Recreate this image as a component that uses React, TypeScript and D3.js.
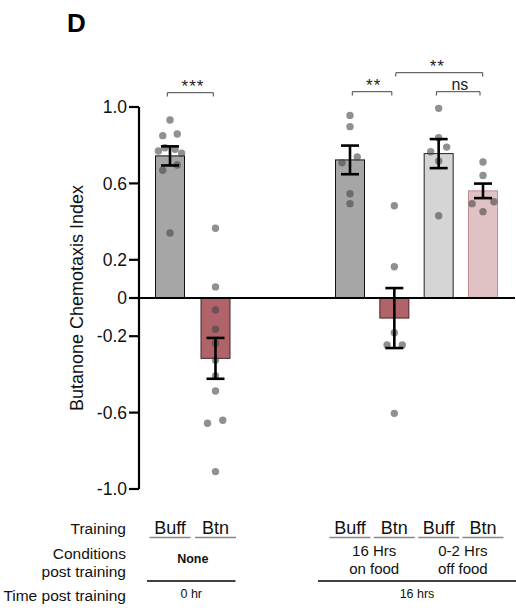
import React from "react";
import * as d3 from "d3";

const barSlots = [0, 1, 4, 5, 6, 7];
const barMeans = [0.744, -0.316, 0.723, -0.105, 0.756, 0.561];
const barSem = [0.05, 0.107, 0.075, 0.157, 0.076, 0.038];
const barFills = ["#a6a6a6", "#b06368", "#a6a6a6", "#b06368", "#d5d5d5", "#e0c1c4"];
const barStrokes = ["#111111", "#4a2427", "#111111", "#4a2427", "#222222", "#c48d92"];

// individual animals: [bar index, value, horizontal jitter (fraction of half bar width)]
const dotBar = [
  0, 0, 0, 0, 0, 0, 0, 0, 0, 0,
  1, 1, 1, 1, 1, 1, 1, 1, 1, 1, 1,
  2, 2, 2, 2, 2, 2,
  3, 3, 3, 3, 3, 3,
  4, 4, 4, 4, 4, 4,
  5, 5, 5, 5, 5,
];
const dotValue = [
  0.932, 0.85, 0.859, 0.77, 0.787, 0.779, 0.758, 0.669, 0.696, 0.34,
  0.365, 0.058, -0.063, -0.164, -0.237, -0.325, -0.408, -0.487, -0.656, -0.64, -0.909,
  0.956, 0.897, 0.738, 0.708, 0.546, 0.494,
  0.483, 0.164, -0.182, -0.246, -0.246, -0.604,
  0.993, 0.839, 0.766, 0.79, 0.717, 0.431,
  0.712, 0.642, 0.494, 0.504, 0.452,
];
const dotJitter = [
  0, -0.5, 0.5, -0.8, -0.35, 0.35, 0.8, -0.5, 0.5, 0,
  0, 0, 0, 0, 0, 0, 0, 0, -0.55, 0.5, 0,
  0, 0, 0.5, -0.55, 0, 0,
  0, 0, 0, -0.5, 0.55, 0,
  0, 0, -0.55, 0.55, 0, 0,
  0, 0, -0.75, 0.75, 0,
];

const yTicks = [1.0, 0.6, 0.2, 0, -0.2, -0.6, -1.0];
const yTickLabels = ["1.0", "0.6", "0.2", "0", "-0.2", "-0.6", "-1.0"];

// significance brackets
const sigLeft = [0, 2, 3, 4];
const sigRight = [1, 3, 5, 5];
const sigLevel = [0, 0, 1, 0];
const sigLabels = ["***", "**", "**", "ns"];

const trainingLabels = ["Buff", "Btn", "Buff", "Btn", "Buff", "Btn"];
const rowLabels = ["Training", "Conditions", "post training", "Time post training"];
const conditionGroups = [
  { bars: [0, 1], lines: ["None"], bold: true },
  { bars: [2, 3], lines: ["16 Hrs", "on food"], bold: false },
  { bars: [4, 5], lines: ["0-2 Hrs", "off food"], bold: false },
];
const timeGroups = [
  { bars: [0, 1], label: "0 hr" },
  { bars: [2, 5], label: "16 hrs" },
];

const FONT = "'Liberation Sans', Arial, Helvetica, sans-serif";

export default function App() {
  const y = d3.scaleLinear().domain([-1, 1]).range([489, 107]);
  const x = d3.scaleLinear().domain([0, 1, 4, 7]).range([170, 215.5, 350, 483]);
  const barW = 29;
  const axisX = 139;
  const cx = (i: number) => x(barSlots[i]);
  const sigOffL = [-2.7, 2.3, 1.5, -2.3];
  const sigOffR = [-2.2, -2.5, -0.3, -3];
  const sigTextOff = [2.7, 1.6, -2, 1.7];

  return (
    <svg width={516} height={612} style={{ position: "absolute", left: 0, top: 0 }} fontFamily={FONT}>
      <rect width={516} height={612} fill="#fff" />
      <text x={67} y={32} fontSize={26} fontWeight="bold">D</text>

      {/* bars */}
      {barMeans.map((m, i) => (
        <rect
          key={"b" + i}
          x={cx(i) - barW / 2}
          y={Math.min(y(m), y(0))}
          width={barW}
          height={Math.abs(y(m) - y(0))}
          fill={barFills[i]}
          stroke={barStrokes[i]}
          strokeWidth={1}
        />
      ))}

      {/* dots */}
      {dotValue.map((v, k) => (
        <circle
          key={"d" + k}
          cx={cx(dotBar[k]) + dotJitter[k] * (barW / 2)}
          cy={y(v)}
          r={3.7}
          fill="rgba(70,70,70,0.6)"
        />
      ))}

      {/* error bars */}
      {barMeans.map((m, i) => {
        const c = cx(i);
        const hi = y(m + barSem[i]);
        const lo = y(m - barSem[i]);
        return (
          <g key={"e" + i} stroke="#000" strokeWidth={2.6}>
            <line x1={c} x2={c} y1={hi} y2={lo} />
            <line x1={c - 9} x2={c + 9} y1={hi} y2={hi} />
            <line x1={c - 9} x2={c + 9} y1={lo} y2={lo} />
          </g>
        );
      })}

      {/* y axis */}
      <line x1={axisX} x2={axisX} y1={y(1)} y2={y(-1)} stroke="#000" strokeWidth={2.2} />
      {yTicks.map((t, i) => (
        <g key={"t" + i}>
          <line x1={129} x2={axisX} y1={y(t)} y2={y(t)} stroke="#000" strokeWidth={2.2} />
          <text x={127} y={y(t)} dy="0.35em" textAnchor="end" fontSize={17.5} fill="#111">
            {yTickLabels[i]}
          </text>
        </g>
      ))}
      <line x1={129} x2={515} y1={y(0)} y2={y(0)} stroke="#000" strokeWidth={2.2} />
      <text
        transform={`translate(82.5, ${y(0)}) rotate(-90)`}
        textAnchor="middle"
        fontSize={18}
        fill="#111"
      >
        Butanone Chemotaxis Index
      </text>

      {/* significance */}
      {sigLabels.map((s, i) => {
        const x1 = cx(sigLeft[i]) + sigOffL[i];
        const x2 = cx(sigRight[i]) + sigOffR[i];
        const by = sigLevel[i] ? 72.7 : i === 0 ? 92.7 : 91.7;
        const isNs = s === "ns";
        return (
          <g key={"s" + i}>
            <path
              d={`M${x1},${by + 3.8}V${by}H${x2}V${by + 3.8}`}
              fill="none"
              stroke="#444"
              strokeWidth={1}
            />
            <text
              x={(x1 + x2) / 2 + sigTextOff[i]}
              y={isNs ? by - 1.5 : by - 0.5}
              textAnchor="middle"
              fontSize={isNs ? 16 : 17}
              letterSpacing={isNs ? 0 : 1}
              fill="#222"
            >
              {s}
            </text>
          </g>
        );
      })}

      {/* bottom table */}
      <g fontSize={15.5} fill="#111" textAnchor="end">
        <text x={126} y={534}>{rowLabels[0]}</text>
        <text x={126} y={559}>{rowLabels[1]}</text>
        <text x={126} y={577}>{rowLabels[2]}</text>
        <text x={126} y={601}>{rowLabels[3]}</text>
      </g>
      {trainingLabels.map((t, i) => (
        <g key={"tr" + i}>
          <text x={cx(i)} y={534} textAnchor="middle" fontSize={18} fill="#111">{t}</text>
          <line x1={cx(i) - 20.5} x2={cx(i) + 20.5} y1={537.5} y2={537.5} stroke="#888" strokeWidth={1.6} />
        </g>
      ))}
      {conditionGroups.map((g, i) => {
        const c = (cx(g.bars[0]) + cx(g.bars[1])) / 2 + (g.bold ? 0 : 2);
        return g.lines.map((l, j) => (
          <text
            key={"c" + i + j}
            x={c}
            y={g.bold ? 563 : 556 + j * 18}
            textAnchor="middle"
            fontSize={g.bold ? 12.5 : 15}
            fontWeight={g.bold ? "bold" : "normal"}
            fill="#111"
          >
            {l}
          </text>
        ));
      })}
      {timeGroups.map((g, i) => {
        const x1 = i === 0 ? cx(g.bars[0]) - 23 : cx(g.bars[0]) - 32;
        const x2 = i === 0 ? cx(g.bars[1]) + 20 : 516;
        return (
          <g key={"tg" + i}>
            <line x1={x1} x2={x2} y1={581} y2={581} stroke="#000" strokeWidth={1.3} />
            <text x={(x1 + x2) / 2} y={598} textAnchor="middle" fontSize={12.5} fill="#111">
              {g.label}
            </text>
          </g>
        );
      })}
    </svg>
  );
}
